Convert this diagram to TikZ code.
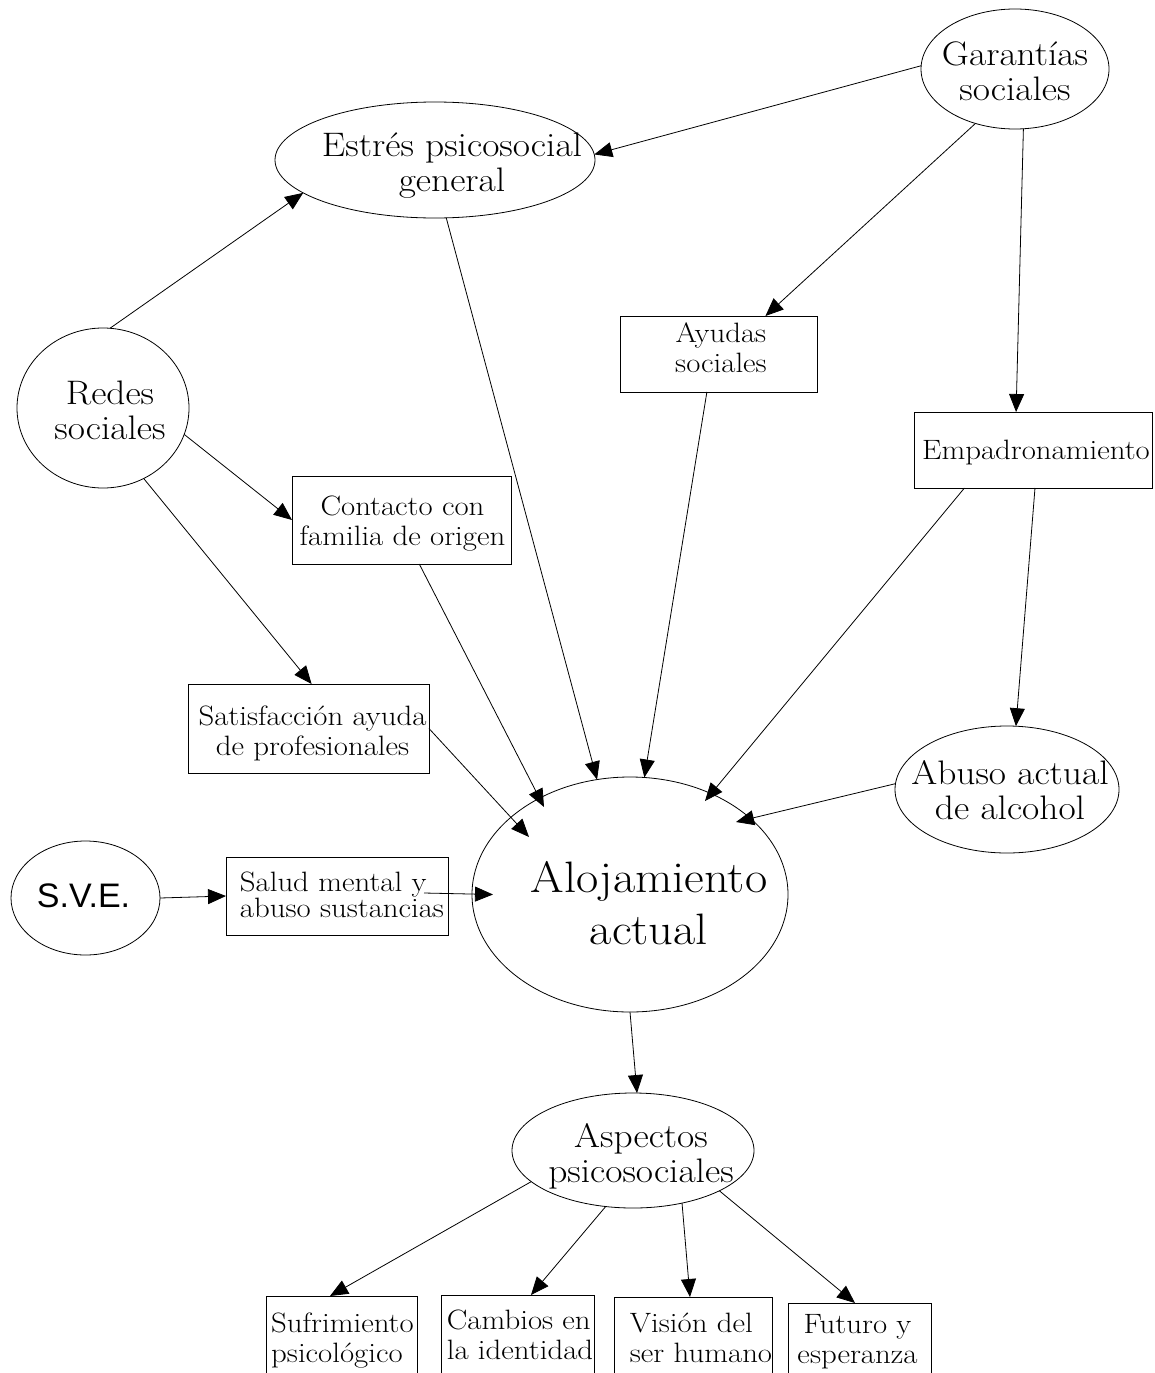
\documentclass[tikz,border=0pt]{standalone}
\usepackage{fontspec}
\setmainfont{Latin Modern Roman}[FakeStretch=1.1]
\newfontfamily\svefont{Liberation Sans}
\usetikzlibrary{arrows.meta,calc,shapes.geometric}
\begin{document}
\begin{tikzpicture}[x=1pt,y=-1pt,
  every node/.style={inner sep=0pt, outer sep=0pt},
  ell/.style={draw, ellipse, line width=0.8pt},
  box/.style={draw, rectangle, line width=0.8pt},
  bigt/.style={font=\fontsize{34}{35}\selectfont, align=center},
  hugt/.style={font=\fontsize{44}{52}\selectfont, align=center},
  boxt/.style={font=\fontsize{28}{30}\selectfont, align=center},
  boxl/.style={font=\fontsize{28}{30}\selectfont, align=left},
  conn/.style={-{Triangle[length=18pt,width=15pt]}, line width=0.8pt},
]
\fill[white] (0,0) rectangle (1155,1373);
\useasboundingbox (0,0) rectangle (1155,1373);

% ellipses
\node[ell, minimum width=320pt, minimum height=116pt,
  label={[bigt, xshift=17pt, yshift=-6pt]center:Estrés psicosocial\\general}] (estres) at (435,160) {};
\node[ell, minimum width=188pt, minimum height=120pt,
  label={[bigt, yshift=-2.5pt]center:Garantías\\sociales}] (garant) at (1015,69) {};
\node[ell, minimum width=172pt, minimum height=160pt,
  label={[bigt, xshift=7pt, yshift=-2.5pt]center:Redes\\sociales}] (redes) at (103,408) {};
\node[ell, minimum width=316pt, minimum height=235pt,
  label={[hugt, xshift=19pt, yshift=-9pt]center:Alojamiento\\actual}] (aloj) at (630,894.5) {};
\node[ell, minimum width=224pt, minimum height=127pt,
  label={[bigt, xshift=3pt, yshift=-1pt]center:Abuso actual\\de alcohol}] (abuso) at (1007,789.5) {};
\node[ell, minimum width=149pt, minimum height=114pt,
  label={[font=\svefont\fontsize{34}{35}\selectfont, xshift=-2pt, yshift=2.5pt]center:S.V.E.}] (sve) at (85.5,898) {};
\node[ell, minimum width=242pt, minimum height=115pt,
  label={[bigt, xshift=8pt, yshift=-6pt]center:Aspectos\\psicosociales}] (aspectos) at (633,1150.5) {};

% boxes
\node[box, minimum width=197pt, minimum height=76pt,
  label={[boxt, xshift=2.5pt, yshift=6.5pt]center:Ayudas\\sociales}] (ayudas) at (718.5,354) {};
\node[box, minimum width=238pt, minimum height=76pt,
  label={[boxt, xshift=3pt, yshift=-3pt]center:Empadronamiento}] (empad) at (1033,450) {};
\node[box, minimum width=219pt, minimum height=88pt,
  label={[boxt, xshift=1pt, yshift=-4pt]center:Contacto con\\familia de origen}] (contacto) at (401.5,520) {};
\node[box, minimum width=241pt, minimum height=89pt,
  label={[boxt, xshift=4pt, yshift=-4.5pt]center:Satisfacción ayuda\\de profesionales}] (satisf) at (308.5,728.5) {};
\node[box, minimum width=222pt, minimum height=78pt,
  label={[font=\fontsize{28}{26}\selectfont, align=left, xshift=5pt, yshift=1pt]center:Salud mental y\\abuso sustancias}] (salud) at (337,896) {};

% bottom boxes (cut by the page edge)
\node[box, anchor=north, minimum width=151pt, minimum height=100pt,
  label={[boxl, xshift=1pt, yshift=5pt]center:Sufrimiento\\psicológico}] (sufr) at (341.5,1296) {};
\node[box, anchor=north, minimum width=153pt, minimum height=100pt,
  label={[boxl, xshift=2.5pt, yshift=9.7pt]center:Cambios en\\la identidad}] (camb) at (517.5,1295) {};
\node[box, anchor=north, minimum width=158pt, minimum height=100pt,
  label={[boxl, xshift=8pt, yshift=8.7pt]center:Visión del\\ser humano}] (vision) at (693,1297) {};
\node[box, anchor=north, minimum width=143pt, minimum height=100pt,
  label={[boxt, xshift=-2pt, yshift=11pt]center:Futuro y\\esperanza}] (futuro) at (859.5,1303) {};

% connectors
\draw[conn] (redes.85) -- (estres.194);
\draw[conn] (garant.178) -- (estres.2);
\draw[conn] (garant.234) -- (ayudas.39);
\draw[conn] (garant.278) -- (empad.114);
\draw[conn] (estres.281) -- (aloj.106);
\draw[conn] (ayudas.253) -- (aloj.83);
\draw[conn] (empad.209) -- ($(aloj)+(75,-93.5)$);
\draw[conn] (empad.273) -- (abuso.82);
\draw[conn] (abuso.177) -- ($(aloj)+(106,-72.5)$);
\draw[conn] (redes.342) -- (contacto.west);
\draw[conn] (redes.300) -- (satisf.86);
\draw[conn] (contacto.292) -- ($(aloj)+(-86,-87.5)$);
\draw[conn] (satisf.east) -- ($(aloj)+(-101,-57.5)$);
\draw[conn] (sve.east) -- (salud.west);
\draw[conn] ($(salud.east)+(-24,-3)$) -- ($(aloj.west)+(21,0)$);
\draw[conn] (aloj.south) -- (aspectos.86);
\draw[conn] (aspectos.197) -- ($(sufr.north)+(-11.5,0)$);
\draw[conn] (aspectos.244) -- ($(camb.north)+(13.5,0)$);
\draw[conn] (aspectos.313) -- ($(vision.north)+(-3,0)$);
\draw[conn] (aspectos.335) -- ($(futuro.north)+(-4.5,0)$);
\end{tikzpicture}
\end{document}
